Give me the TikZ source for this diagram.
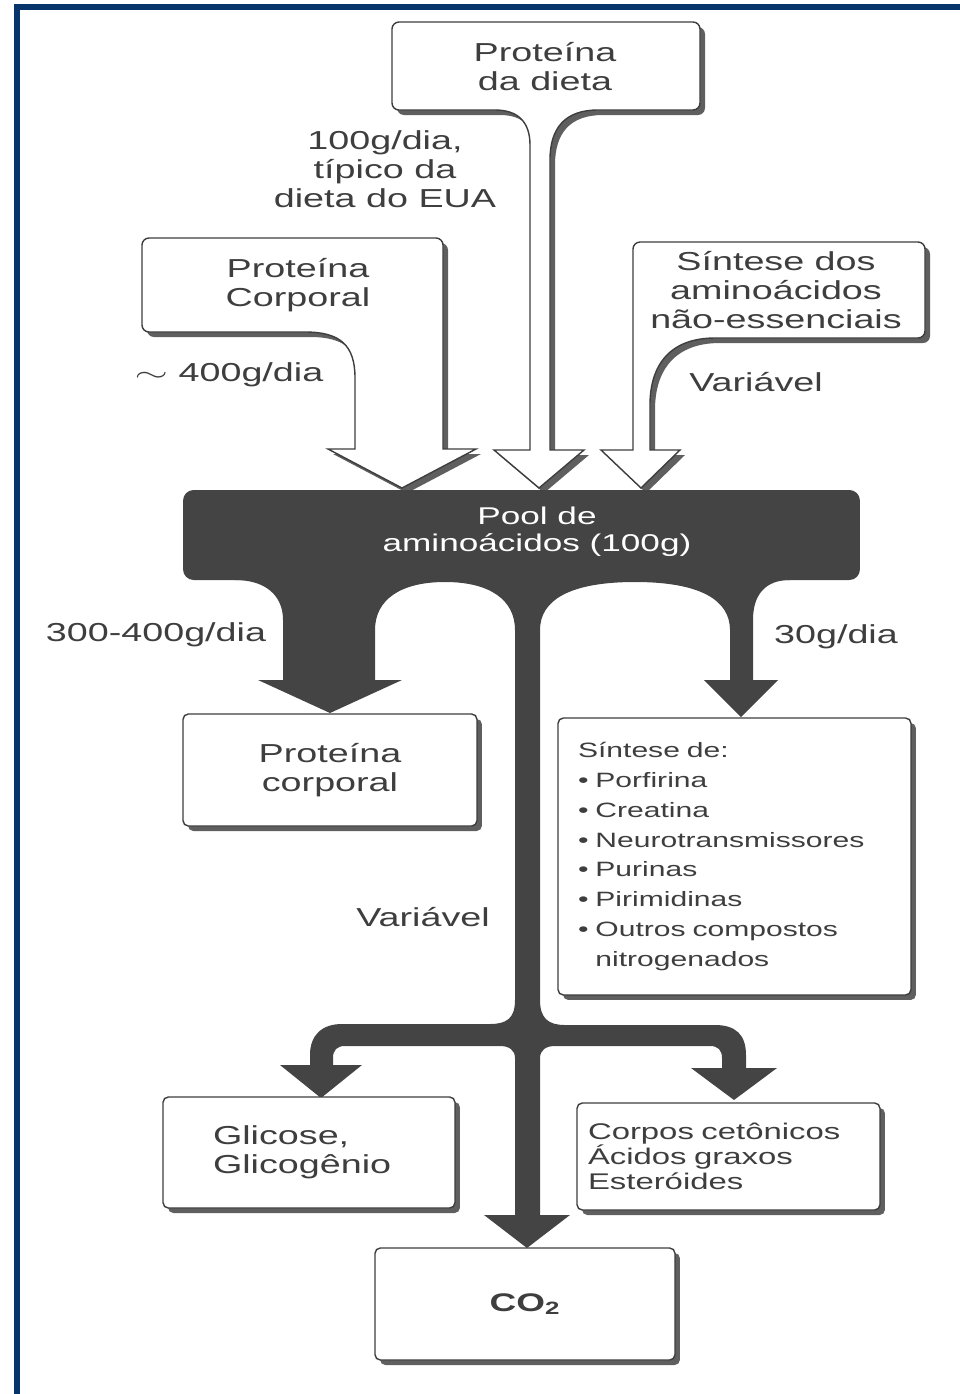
\documentclass[tikz,border=0pt]{standalone}
\usepackage{fontspec}
\usepackage{graphicx}
\setmainfont{Liberation Sans}[FakeStretch=1.45]
\usetikzlibrary{shadows}

\definecolor{frameblue}{RGB}{8,52,108}
\definecolor{inkgray}{RGB}{62,62,62}
\definecolor{flowgray}{RGB}{68,68,68}
\definecolor{shadegray}{RGB}{95,95,95}

\newcommand{\lblsize}{\fontsize{14.8}{16.5}\selectfont}
\newcommand{\poolsize}{\fontsize{13.8}{15.4}\selectfont}
\newcommand{\listsize}{\fontsize{11.8}{17}\selectfont}
\newcommand{\corpsize}{\fontsize{12.9}{14.2}\selectfont}

\begin{document}
\begin{tikzpicture}[
    x=0.02cm, y=-0.02cm,
    lbl/.style={
        font=\lblsize,
        text=inkgray,
        align=center,
        inner sep=0pt
    },
    card/.style={
        draw=inkgray,
        fill=white,
        line width=0.8pt,
        rounded corners=3pt,
        drop shadow={shadow xshift=0.1cm, shadow yshift=-0.1cm, fill=shadegray, opacity=1},
        font=\lblsize,
        text=inkgray,
        align=center,
        inner sep=0pt
    },
    tube/.style={
        draw=inkgray,
        fill=white,
        line width=0.8pt,
        drop shadow={shadow xshift=0.1cm, shadow yshift=-0.1cm, fill=shadegray, opacity=1}
    },
    flow/.style={
        fill=flowgray
    },
    pool/.style={
        fill=flowgray,
        rounded corners=6pt,
        minimum width=13.54cm,
        minimum height=1.8cm
    }
]
\useasboundingbox (0,0) rectangle (960,1394);

% Frame
\fill[frameblue] (14,4) rectangle (960,10);
\fill[frameblue] (14,4) rectangle (20,1394);

% Inputs (hollow arrows)
\path[tube] (530,450) -- (530,145) .. controls (530,122) and (518,110) .. (495,110)
    [rounded corners=4pt] -- (392,110) -- (392,22) -- (700,22) -- (700,110) -- (640,110)
    [sharp corners] -- (598,110) .. controls (565,110) and (550,128) .. (550,160)
    -- (550,450) -- (584,450) -- (539,488) -- (494,450) -- cycle;
\path[tube] (355,449) -- (355,378) .. controls (355,345) and (340,332) .. (305,332)
    [rounded corners=4pt] -- (142,332) -- (142,238) -- (443,238) -- (443,300)
    [sharp corners] -- (443,449) -- (476,449) -- (402,488) -- (328,449) -- cycle;
\path[tube] (633,450) [rounded corners=4pt] -- (633,242) -- (925,242) -- (925,338) -- (760,338)
    [sharp corners] -- (715,338) .. controls (670,338) and (650,365) .. (650,405)
    -- (650,450) -- (680,450) -- (641,488) -- (601,450) -- cycle;

% Nodes
\node[lbl] (dieta) at (545,67) {Proteína\\da dieta};
\node[lbl] (corpa) at (298,285) {Proteína\\Corporal};
\node[lbl] (naoess) at (776,290) {Síntese dos\\aminoácidos\\não-essenciais};
\node[lbl] (eua) at (385,169) {100g/dia,\\típico da\\dieta do EUA};
\node[lbl] (q400) at (229,375) {\scalebox{1.7}[1]{$\sim$}\ 400g/dia};
\node[lbl] (varsup) at (756,382) {Variável};

\node[pool] (pool) at (521.5,535) {};
\node[lbl, font=\poolsize, text=white] (pooltxt) at (537,532) {Pool de\\aminoácidos (100g)};

% Outflows
\path[flow] (235,570) -- (790,570) -- (790,580) .. controls (765,580) and (753,595) .. (753,620)
    -- (753,680) -- (778,680) -- (741,717) -- (704,680) -- (730,680)
    -- (730,630) .. controls (730,600) and (700,582) .. (635,582)
    .. controls (570,582) and (540,600) .. (540,630)
    -- (540,1000) .. controls (540,1018) and (548,1025) .. (565,1025)
    -- (715,1025) .. controls (736,1025) and (746,1035) .. (746,1055)
    -- (746,1068) -- (777,1068) -- (734,1100) -- (691,1068) -- (722,1068)
    -- (722,1058) .. controls (722,1050) and (718,1046) .. (710,1046)
    -- (555,1046) .. controls (546,1046) and (540,1050) .. (540,1058)
    -- (540,1215) -- (570,1215) -- (527,1248) -- (484,1215) -- (515,1215)
    -- (515,1058) .. controls (515,1050) and (509,1046) .. (500,1046)
    -- (345,1046) .. controls (337,1046) and (333,1050) .. (333,1058)
    -- (333,1065) -- (362,1065) -- (321,1098) -- (280,1065) -- (310,1065)
    -- (310,1055) .. controls (310,1035) and (322,1024) .. (342,1024)
    -- (490,1024) .. controls (507,1024) and (515,1018) .. (515,1000)
    -- (515,630) .. controls (515,600) and (490,582) .. (445,582)
    .. controls (400,582) and (375,600) .. (375,630)
    -- (375,680) -- (402,680) -- (330,713) -- (258,680) -- (283,680)
    -- (283,620) .. controls (283,595) and (265,580) .. (235,580) -- cycle;

\node[lbl] (q300) at (156,635) {300-400g/dia};
\node[lbl] (q30) at (836,637) {30g/dia};
\node[lbl] (varmid) at (423,917) {Variável};

% Targets
\node[card, minimum width=5.88cm, minimum height=2.24cm] (corpb) at (330,770) {Proteína\\corporal};
\node[card, font=\listsize, align=left, text width=6.26cm, inner xsep=0.4cm, minimum height=5.54cm] (sintb) at (734.5,856.5)
    {Síntese de:\\\textbullet\ Porfirina\\\textbullet\ Creatina\\\textbullet\ Neurotransmissores\\\textbullet\ Purinas\\\textbullet\ Pirimidinas\\\textbullet\ Outros compostos\\\hphantom{\textbullet\ }nitrogenados};
\node[card, align=left, text width=3.84cm, inner xsep=1cm, minimum height=2.22cm] (glic) at (309,1152.5) {Glicose,\\Glicogênio};
\node[card, font=\corpsize, align=left, text width=5.62cm, inner xsep=0.22cm, minimum height=2.14cm] (corpos) at (728.5,1156.5) {Corpos cetônicos\\Ácidos graxos\\Esteróides};
\node[card, font=\fontsize{14.5}{16}\selectfont\bfseries, minimum width=6cm, minimum height=2.24cm] (co2) at (525,1304) {CO\textsubscript{2}};

\end{tikzpicture}
\end{document}
